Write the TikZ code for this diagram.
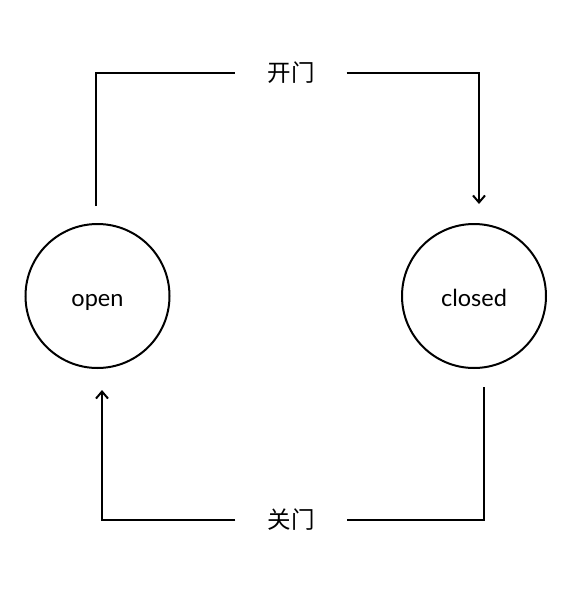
\documentclass[tikz,border=0pt]{standalone}
\usepackage{fontspec}
\setmainfont{Lato}
\newfontfamily\cjk{Noto Sans CJK SC}
\usetikzlibrary{arrows.meta}
\begin{document}
\begin{tikzpicture}[x=1pt,y=-1pt,
  state/.style={circle,draw,line width=2pt,minimum size=144pt,inner sep=0pt,text height=21pt,text depth=0pt,font=\fontsize{23.5}{26}\selectfont},
  lbl/.style={minimum width=111pt,inner sep=0pt,font=\cjk\fontsize{23.5}{26}\selectfont},
  conn/.style={line width=2pt},
  tip/.style={-{Straight Barb[length=7pt,width=12pt,line width=2pt]}}
]
\useasboundingbox (0,0) rectangle (582,592);
\node[state] (open) at (97.5,296) {open};
\node[state] (closed) at (474,296) {closed};
\node[lbl] (topl) at (291,73) {开门};
\node[lbl] (botl) at (291,520) {关门};
\coordinate (s1) at (96,206);
\coordinate (e1) at (479,204);
\coordinate (s2) at (484,387);
\coordinate (e2) at (102,390);
\draw[conn] (s1) |- (topl.west);
\draw[conn,tip] (topl.east) -| (e1);
\draw[conn] (s2) |- (botl.east);
\draw[conn,tip] (botl.west) -| (e2);
\end{tikzpicture}
\end{document}
